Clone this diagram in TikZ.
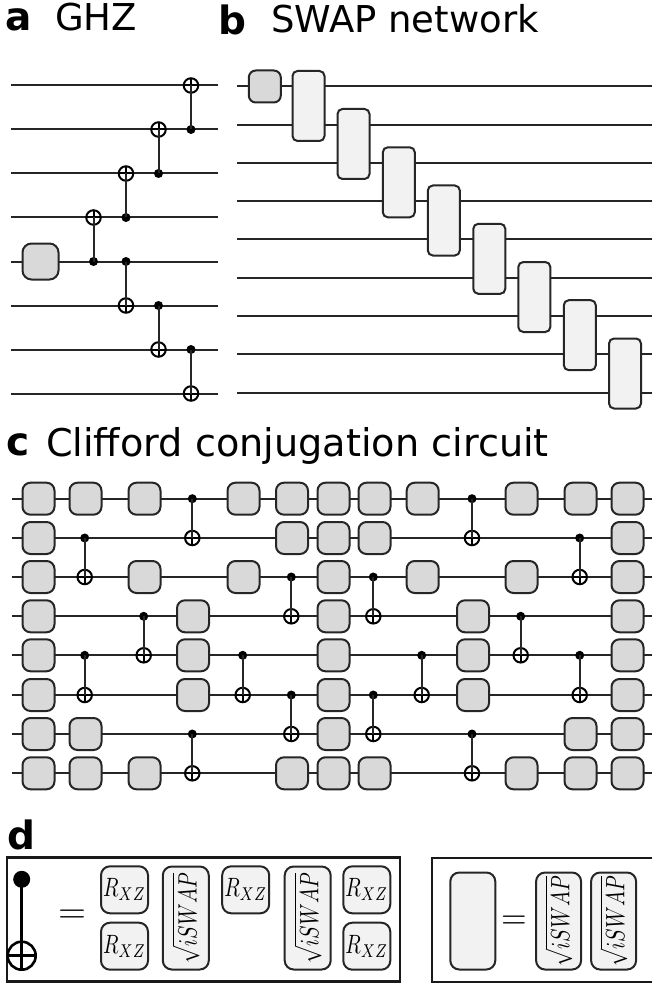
\documentclass[tikz,border=0pt]{standalone}
\usepackage{graphicx}
\usepackage{fontspec}
\setmainfont{DejaVu Sans}
\definecolor{darkgate}{HTML}{D9D9D9}
\definecolor{lightgate}{HTML}{F2F2F2}
\definecolor{wirecol}{HTML}{262626}
\newcommand{\labelbold}[1]{\fontsize{39}{39}\selectfont\bfseries #1}
\newcommand{\labelreg}[1]{\fontsize{37}{37}\selectfont #1}
\newcommand{\rxz}{\scalebox{2.02}[2.65]{$R_{XZ}$}}
\newcommand{\siswap}{\rotatebox{90}{\scalebox{2.02}[2.65]{$\sqrt{iSWAP}$}}}
\tikzset{
  wire/.style={line width=2pt,draw=wirecol},
  vlink/.style={line width=2pt,draw=wirecol},
  gatebase/.style={draw=wirecol,line width=2pt,inner sep=0pt,outer sep=0pt},
  ghate/.style={gatebase,fill=darkgate,rounded corners=8pt,minimum width=32pt,minimum height=32pt},
  bighate/.style={gatebase,fill=darkgate,rounded corners=9pt,minimum width=36pt,minimum height=36pt},
  swapbox/.style={gatebase,fill=lightgate,rounded corners=5pt,minimum width=32pt,minimum height=70pt},
  ctrl/.style={circle,fill=black,inner sep=0pt,outer sep=0pt,minimum size=#1},
  ctrl/.default=9pt,
  targ/.style={circle,draw=black,line width=2pt,inner sep=0pt,outer sep=0pt,minimum size=#1,
    path picture={\draw[line width=2pt] (path picture bounding box.north) -- (path picture bounding box.south)
      (path picture bounding box.west) -- (path picture bounding box.east);}},
  targ/.default=14.5pt,
  rbox/.style={gatebase,fill=lightgate,rounded corners=9pt,minimum width=47pt,minimum height=47pt},
  sbox/.style={gatebase,fill=lightgate,rounded corners=9pt,minimum width=46pt,minimum height=103pt},
  frame/.style={draw=black!90,line width=2.2pt},
  panel/.style={anchor=base west,inner sep=0pt,outer sep=0pt},
  eqsign/.style={inner sep=0pt,outer sep=0pt}
}
\begin{document}
\begin{tikzpicture}[x=1pt,y=-1pt]
\useasboundingbox (0,0) rectangle (652,984);
\clip (0,0) rectangle (652,984);
\fill[white] (0,0) rectangle (652,984);
% labels
\node[panel] (la) at (5.5,31) {\labelbold{a}};
\node[panel] (lat) at (55,31) {\labelreg{GHZ}};
\node[panel] (lb) at (218,35) {\labelbold{b}};
\node[panel] (lbt) at (271,33) {\labelreg{SWAP network}};
\node[panel] (lc) at (6.5,455) {\labelbold{c}};
\node[panel] (lct) at (46,456) {\fontsize{38.2}{38.2}\selectfont Clifford conjugation circuit};
\node[panel] (ld) at (7,849) {\labelbold{d}};
% panel a
\foreach \yy [count=\r] in {85.5,129.5,173.5,217.5,261.5,305.5,349.5,393.5}{
  \coordinate (aw\r l) at (11,\yy);
  \coordinate (aw\r r) at (218,\yy);
  \draw[wire] (aw\r l) -- (aw\r r);
}
\node[bighate] (ah) at (40.5,261.5) {};
\foreach \xx/\yc/\yt [count=\k] in {93.5/261.5/217.5,126/217.5/173.5,126/261.5/305.5,158.5/173.5/129.5,158.5/305.5/349.5,191/129.5/85.5,191/349.5/393.5}{
  \node[ctrl] (ac\k) at (\xx,\yc) {};
  \node[targ] (at\k) at (\xx,\yt) {};
  \draw[vlink] (ac\k.center) -- (at\k.center);
}
% panel b
\foreach \yy [count=\r] in {86.5,124.8,163,201.2,239.2,277.7,316,354.3,392.5}{
  \coordinate (bw\r l) at (237,\yy);
  \coordinate (bw\r r) at (652,\yy);
  \draw[wire] (bw\r l) -- (bw\r r);
}
\node[ghate,rounded corners=7pt] (bh) at (264.8,86.5) {};
\foreach \xx/\yy [count=\k] in {308.5/106,353.5/144,398.8/182.3,443.8/220.5,489.3/258.8,534.3/297,579.8/335.2,625/373.5}{
  \node[swapbox] (bs\k) at (\xx,\yy) {};
}
% panel c
\foreach \yy [count=\r] in {498.7,538,577,616.3,655.3,695,734,773.3}{
  \coordinate (cw\r l) at (12,\yy);
  \coordinate (cw\r r) at (652,\yy);
  \draw[wire] (cw\r l) -- (cw\r r);
}
\foreach \yy/\lst [count=\r] in {
  498.7/{38.5,85.5,144.5,243.5,292,333.5,374.5,422.7,521.5,580.5,627.5},
  538/{38.5,292,333.5,374.5,627.5},
  577/{38.5,144.5,243.5,333.5,422.7,521.5,627.5},
  616.3/{38.5,193,333.5,473,627.5},
  655.3/{38.5,193,333.5,473,627.5},
  695/{38.5,193,333.5,473,627.5},
  734/{38.5,85.5,333.5,580.5,627.5},
  773.3/{38.5,85.5,144.5,292,333.5,374.5,521.5,580.5,627.5}}{
  \foreach \xx [count=\k] in \lst {
    \node[ghate] (cg\r-\k) at (\xx,\yy) {};
  }
}
\foreach \xx/\yc/\yt [count=\k] in {
  84.7/538/577, 84.7/655.3/695, 143.7/616.3/655.3,
  192.3/498.7/538, 192.3/734/773.3, 242.7/655.3/695,
  291.3/577/616.3, 291.3/695/734, 373.3/577/616.3, 373.3/695/734,
  421.7/655.3/695, 472/498.7/538, 472/734/773.3, 520.7/616.3/655.3,
  579.7/538/577, 579.7/655.3/695}{
  \node[ctrl] (cc\k) at (\xx,\yc) {};
  \node[targ] (ct\k) at (\xx,\yt) {};
  \draw[vlink] (cc\k.center) -- (ct\k.center);
}
% panel d left
\draw[frame,line width=2.6pt] (7,857.7) rectangle (400,981.7);
\node[ctrl=17pt] (dc) at (21.7,879.3) {};
\node[targ=28pt,line width=2.6pt,path picture={\draw[line width=2.6pt] (path picture bounding box.north) -- (path picture bounding box.south) (path picture bounding box.west) -- (path picture bounding box.east);}] (dt) at (21.7,955.7) {};
\draw[line width=2.6pt] (dc.center) -- (dt.center);
\node[eqsign] (deq) at (72,916) {\scalebox{3.6}[3.4]{$=$}};
\node[rbox] (dr1) at (124.5,889.8) {\rxz};
\node[rbox] (dr2) at (124.5,946.2) {\rxz};
\node[sbox] (ds1) at (185.8,918) {\siswap};
\node[rbox] (dr3) at (245.7,889.8) {\rxz};
\node[sbox] (ds2) at (307.7,918) {\siswap};
\node[rbox] (dr4) at (366.8,889.8) {\rxz};
\node[rbox] (dr5) at (366.8,946.2) {\rxz};
% panel d right
\draw[frame,line width=2pt] (432,857.9) rectangle (670,981.7);
\node[gatebase,fill=lightgate,rounded corners=9pt,minimum width=45pt,minimum height=97pt] (ds) at (472.8,921) {};
\node[eqsign] (deq2) at (514,922.7) {\scalebox{3.3}[3.4]{$=$}};
\node[sbox,minimum width=45pt,minimum height=97pt] (ds3) at (558.6,921) {\siswap};
\node[sbox,minimum width=45pt,minimum height=97pt] (ds4) at (613.6,921) {\siswap};
\end{tikzpicture}
\end{document}
